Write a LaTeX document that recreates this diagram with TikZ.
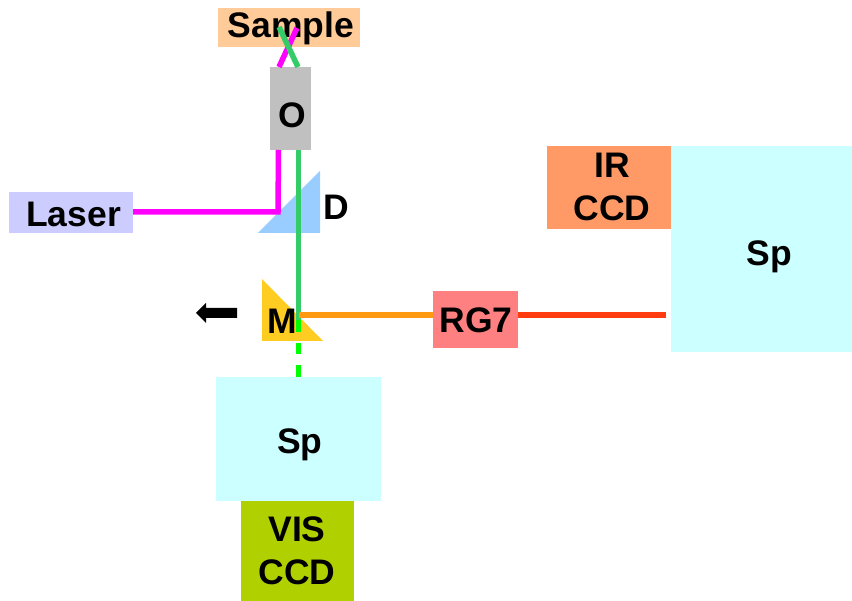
\documentclass[tikz,border=0pt]{standalone}
\usepackage{fontspec}
\setmainfont{Liberation Sans}
\definecolor{csample}{HTML}{FFCC99}
\definecolor{cgray}{HTML}{C0C0C0}
\definecolor{claser}{HTML}{CCCCFF}
\definecolor{cdich}{HTML}{99CCFF}
\definecolor{cmirror}{HTML}{FFCC22}
\definecolor{crg}{HTML}{FF8080}
\definecolor{csp}{HTML}{CCFFFF}
\definecolor{cir}{HTML}{FF9966}
\definecolor{cvis}{HTML}{B0D000}
\definecolor{cgreen}{HTML}{33CC66}
\definecolor{cdash}{HTML}{00FF00}
\definecolor{corange}{HTML}{FF9911}
\definecolor{cred}{HTML}{FF3B10}
\definecolor{cmag}{HTML}{FF00FF}
\tikzset{
  x=1pt,y=-1pt,
  lab/.style={font=\fontsize{35.5}{42.5}\selectfont\bfseries,text=black,inner sep=0pt,align=center},
  beam/.style={line width=5.5pt,line cap=butt,line join=miter},
  block/.style={anchor=north west,inner sep=0pt,outer sep=0pt,draw=none}
}
\newcommand{\blk}[7]{\node[block,fill=#2,minimum width=#5pt-#3pt,minimum height=#6pt-#4pt] (#1) at (#3,#4) {};}
\begin{document}
\begin{tikzpicture}
\useasboundingbox (0,0) rectangle (852,601);
\blk{sample}{csample}{218}{8}{360}{47}{}
\blk{obj}{cgray}{270}{67}{311}{150}{}
\blk{laser}{claser}{9}{192}{133}{233}{}
\blk{rg}{crg}{433}{291}{518}{348}{}
\blk{spr}{csp}{671}{146}{852}{352}{}
\blk{ir}{cir}{547}{146}{671}{229}{}
\blk{spb}{csp}{216}{377}{381}{501}{}
\blk{vis}{cvis}{241}{501}{354}{601}{}
\fill[cdich] (258,233) -- (320,233) -- (320,171) -- cycle;
\fill[cmirror] (262,279) -- (262,341) -- (323,341) -- cycle;
% free beam ends
\coordinate (bend) at (278,212);
\coordinate (magO) at (278.5,150);
\coordinate (magT) at (279,67);
\coordinate (magS) at (297,28);
\coordinate (grnO) at (298.5,150);
\coordinate (grnT) at (298,67);
\coordinate (grnS) at (279,27);
\coordinate (mpt) at (298.5,320);
\coordinate (dash1) at (298.5,332);
\coordinate (dash2) at (298.5,343);
\coordinate (dash3) at (298.5,354);
\coordinate (dash4) at (298.5,365);
\coordinate (dash5) at (298.5,377);
\coordinate (orgS) at (299,315);
\coordinate (redE) at (666,315);
\coordinate (arrT) at (237,313);
\coordinate (arrP) at (196,313);
% text
\node[lab] at (291,28) {Sample};
\node[lab] at (292,115) {O};
\node[lab] at (73.5,214) {Laser};
\node[lab] at (336,207) {D};
\node[lab] at (282,321) {M};
\node[lab] at (476,320) {RG7};
\node[lab] at (769,257) {Sp};
\node[lab] at (300,445) {Sp};
\node[lab] at (612,187) {IR\\CCD};
\node[lab] at (297,551) {VIS\\CCD};
% beams
\draw[beam,cmag] (laser.east |- bend) -- (bend) -- (magO);
\draw[beam,cmag] (magT) -- (magS);
\draw[beam,cgreen] (grnT) -- (grnS);
\draw[beam,cgreen] (grnO) -- (mpt);
\draw[beam,cdash] (mpt) -- (dash1);
\draw[beam,cdash] (dash2) -- (dash3);
\draw[beam,cdash] (dash4) -- (dash5);
\draw[beam,corange] (orgS) -- (rg.west |- orgS);
\draw[beam,cred] (rg.east |- orgS) -- (redE);
\fill[black] (arrT) ++(0,-5) -- (206,308) -- (206,303) -- (arrP) -- (206,323) -- (206,318) -- (237,318) -- cycle;
\end{tikzpicture}
\end{document}
